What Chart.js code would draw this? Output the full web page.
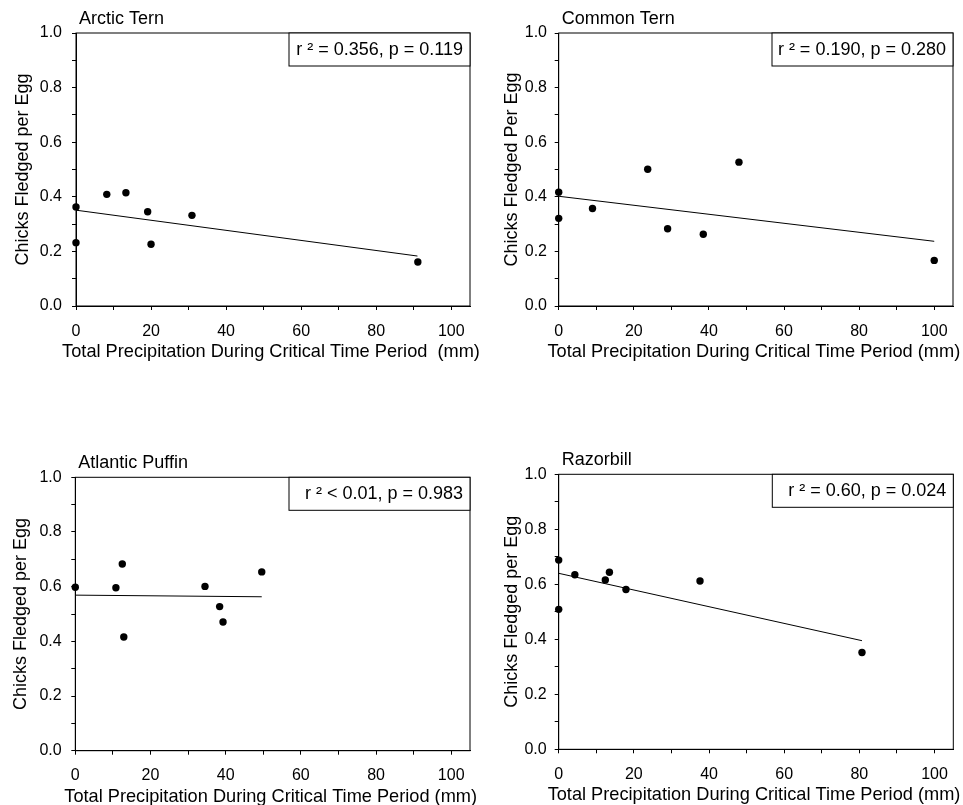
<!DOCTYPE html>
<html lang="en">
<head>
  <meta charset="UTF-8" />
  <title>Chicks fledged per egg vs. precipitation</title>
  <script src="https://cdn.jsdelivr.net/npm/chart.js"></script>
  <style>
    body { margin: 0; background: #fff; }
    canvas { position: absolute; }
  </style>
</head>
<body>
<canvas id="arcticChart"></canvas>
<canvas id="commonChart"></canvas>
<canvas id="puffinChart"></canvas>
<canvas id="razorChart"></canvas>

<script>
  // Arctic Tern
  const arcticPrecip = [0, 0, 8.2, 13.3, 19.1, 20.0, 30.9, 91.1];
  const arcticChicks = [0.363, 0.232, 0.409, 0.415, 0.345, 0.226, 0.332, 0.161];
  const arcticFitX = [0, 91];
  const arcticFitY = [0.351, 0.183];

  // Common Tern
  const commonPrecip = [0, 0, 9.0, 23.7, 29.0, 38.5, 48.0, 100];
  const commonChicks = [0.417, 0.321, 0.357, 0.501, 0.283, 0.263, 0.527, 0.167];
  const commonFitX = [0, 100];
  const commonFitY = [0.402, 0.237];

  // Atlantic Puffin
  const puffinPrecip = [0, 10.8, 12.5, 12.9, 34.5, 38.4, 39.3, 49.6];
  const puffinChicks = [0.598, 0.596, 0.683, 0.416, 0.601, 0.527, 0.471, 0.654];
  const puffinFitX = [0, 49.6];
  const puffinFitY = [0.569, 0.563];

  // Razorbill
  const razorPrecip = [0, 0, 4.3, 12.4, 13.5, 17.9, 37.6, 80.7];
  const razorChicks = [0.688, 0.509, 0.635, 0.616, 0.644, 0.581, 0.612, 0.352];
  const razorFitX = [0, 80.7];
  const razorFitY = [0.640, 0.395];

  const panelTitles = ['Arctic Tern', 'Common Tern', 'Atlantic Puffin', 'Razorbill'];
  const statLabels = ['r ² = 0.356, p = 0.119', 'r ² = 0.190, p = 0.280', 'r ² < 0.01, p = 0.983', 'r ² = 0.60, p = 0.024'];
  const yTitles = ['Chicks Fledged per Egg', 'Chicks Fledged Per Egg', 'Chicks Fledged per Egg', 'Chicks Fledged per Egg'];
  const xTitles = ['Total Precipitation During Critical Time Period  (mm)', 'Total Precipitation During Critical Time Period (mm)',
                   'Total Precipitation During Critical Time Period (mm)', 'Total Precipitation During Critical Time Period (mm)'];

  const xTickValues = [0, 20, 40, 60, 80, 100];
  const xTickLabels = ['0', '20', '40', '60', '80', '100'];
  const yTickValues = [0, 0.2, 0.4, 0.6, 0.8, 1.0];
  const yTickLabels = ['0.0', '0.2', '0.4', '0.6', '0.8', '1.0'];

  // page layout: canvas box [left, top, w, h], plot area [L, T, R, B]
  const layouts = [
    { id: 'arcticChart', box: [0, 0, 486, 361],   plot: [76, 33, 470, 306],        yTitleX: 22.7,  yTickPad: 10 },
    { id: 'commonChart', box: [481, 0, 482, 361], plot: [558.7, 33, 953, 306],     yTitleX: 511.7, yTickPad: 7.7 },
    { id: 'puffinChart', box: [0, 400, 486, 405], plot: [75.3, 477.3, 470, 750.7], yTitleX: 20.7,  yTickPad: 9.6 },
    { id: 'razorChart',  box: [481, 400, 482, 405], plot: [558.7, 474.3, 953.3, 749.3], yTitleX: 511.7, yTickPad: 8 }
  ];

  const series = [
    { precip: arcticPrecip, chicks: arcticChicks, fitX: arcticFitX, fitY: arcticFitY },
    { precip: commonPrecip, chicks: commonChicks, fitX: commonFitX, fitY: commonFitY },
    { precip: puffinPrecip, chicks: puffinChicks, fitX: puffinFitX, fitY: puffinFitY },
    { precip: razorPrecip, chicks: razorChicks, fitX: razorFitX, fitY: razorFitY }
  ];

  const FONT = "'Liberation Sans', Arial, sans-serif";
  Chart.defaults.font.family = FONT;
  Chart.defaults.color = '#000';

  function pickLabel(values, labels, v) {
    const i = values.findIndex(t => Math.abs(t - v) < 1e-6);
    return i >= 0 ? labels[i] : '';
  }

  // frame, species name, r²/p box and the x title (wider than the plot, so not the axis title)
  const panelDecor = {
    id: 'panelDecor',
    afterDraw(chart, args, opts) {
      const { ctx, chartArea: a } = chart;
      ctx.save();
      ctx.strokeStyle = '#000';
      ctx.lineWidth = 1;
      ctx.strokeRect(a.left, a.top, a.width, a.height);

      ctx.fillStyle = '#fff';
      ctx.fillRect(a.right - 181, a.top, 181, 33);
      ctx.strokeRect(a.right - 181, a.top, 181, 33);
      ctx.fillStyle = '#000';
      ctx.font = '18px ' + FONT;
      ctx.textAlign = 'right';
      ctx.textBaseline = 'middle';
      ctx.fillText(opts.stat, a.right - 7, a.top + 17);

      ctx.textAlign = 'left';
      ctx.fillText(opts.title, a.left + 3, a.top - 14);

      ctx.font = '18.2px ' + FONT;
      ctx.textAlign = 'center';
      ctx.fillText(opts.xTitle, (a.left + a.right) / 2 - 2, a.bottom + 46);
      ctx.restore();
    }
  };

  function makeChart(lay, s, i) {
    const [cl, ct, w, h] = lay.box;
    const [L, T, R, B] = lay.plot;
    const cv = document.getElementById(lay.id);
    cv.width = w; cv.height = h;
    cv.style.left = cl + 'px';
    cv.style.top = ct + 'px';
    const yW = L - cl;
    const xH = ct + h - B;

    new Chart(cv, {
      type: 'scatter',
      data: {
        datasets: [
          {
            type: 'line',
            data: s.fitX.map((x, k) => ({ x: x, y: s.fitY[k] })),
            borderColor: '#000', borderWidth: 1, pointRadius: 0, fill: false, order: 2, clip: false
          },
          {
            data: s.precip.map((x, k) => ({ x: x, y: s.chicks[k] })),
            backgroundColor: '#000', borderColor: '#000', borderWidth: 0, pointRadius: 3.7, order: 1, clip: false
          }
        ]
      },
      options: {
        responsive: false,
        animation: false,
        events: [],
        layout: { padding: { left: 0, top: T - ct, right: cl + w - R, bottom: 0 } },
        plugins: {
          legend: { display: false },
          tooltip: { enabled: false },
          panelDecor: { title: panelTitles[i], stat: statLabels[i], xTitle: xTitles[i] }
        },
        scales: {
          x: {
            type: 'linear', min: 0, max: 105,
            afterFit: sc => { sc.height = xH; },
            grid: { drawOnChartArea: false, tickLength: 4, color: '#000' },
            border: { color: '#000', width: 1 },
            ticks: {
              stepSize: 10, includeBounds: false, autoSkip: false, maxRotation: 0,
              padding: 11.5, color: '#000', font: { size: 16 },
              callback: v => pickLabel(xTickValues, xTickLabels, v)
            }
          },
          y: {
            min: 0, max: 1,
            afterFit: sc => { sc.width = yW; },
            grid: { drawOnChartArea: false, tickLength: 4, color: '#000' },
            border: { color: '#000', width: 1 },
            ticks: {
              stepSize: 0.1, autoSkip: false, padding: lay.yTickPad, color: '#000', font: { size: 16 },
              callback: v => pickLabel(yTickValues, yTickLabels, v)
            },
            title: {
              display: true, text: yTitles[i], color: '#000',
              font: { size: 18, lineHeight: 1 },
              padding: { top: lay.yTitleX - cl - 9, bottom: 0 }
            }
          }
        }
      },
      plugins: [panelDecor]
    });
  }

  layouts.forEach((lay, i) => makeChart(lay, series[i], i));
</script>
</body>
</html>
